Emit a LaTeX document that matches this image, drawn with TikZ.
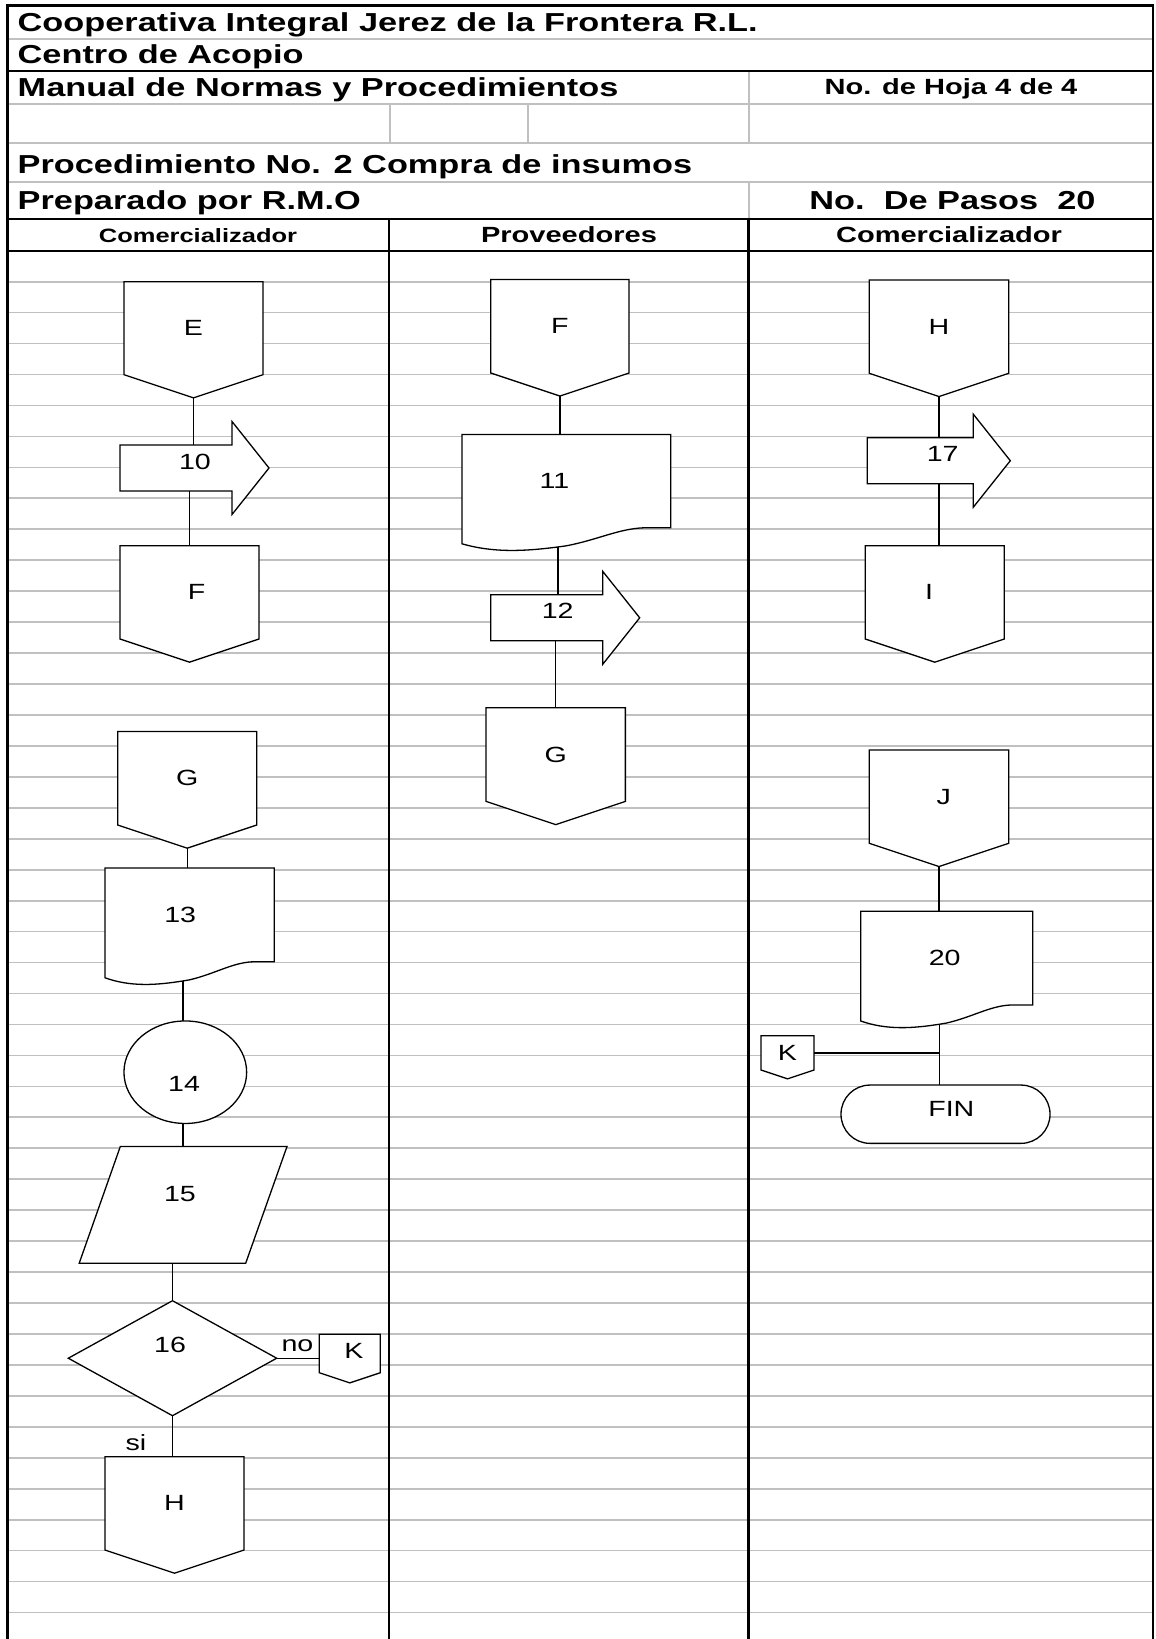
\documentclass[tikz,border=0pt]{standalone}
\usepackage{fontspec}
\setmainfont{Liberation Sans}
\newfontfamily\cabfam[FakeStretch=1.32]{Liberation Sans}
\newfontfamily\cuerpo[FakeStretch=1.3]{Liberation Sans}
\usepackage{xcolor}
\usepackage{tikz}
\usetikzlibrary{shapes.geometric}
\definecolor{rejillagris}{HTML}{C0C0C0}
% one pixel of the sheet
\newcommand{\upx}{0.5pt}
% move a label inside its shape: dx, dy, text
\newcommand{\mv}[3]{\raisebox{#2}[\height][\depth]{\makebox[0pt]{\hspace*{#1}\hspace*{#1}#3}}}
% off-page connector: name, centre x, top, width, height, text
\newcommand{\salto}[6]{%
  \filldraw[forma] ({#2-#4/2},#3) -- ({#2+#4/2},#3) -- ({#2+#4/2},{#3+#5})
    -- (#2,{#3+#5+#4/6}) -- ({#2-#4/2},{#3+#5}) -- cycle;
  \node[etiq, minimum width=#4*\upx, minimum height=#5*\upx] (#1) at (#2,{#3+#5/2}) {#6};
  \coordinate (#1-p) at (#2,{#3+#5+#4/6});}
% document: name, left, top, width, height, text
\newcommand{\documento}[6]{%
  \filldraw[forma] (#2,#3) -- ({#2+#4},#3) -- ({#2+#4},{#3+#5}) -- ({#2+0.87*#4},{#3+#5})
    .. controls ({#2+0.75*#4},{#3+#5+1}) and ({#2+0.65*#4},{#3+#5+12}) .. ({#2+0.5*#4},{#3+#5+18})
    .. controls ({#2+0.3*#4},{#3+#5+24}) and ({#2+0.15*#4},{#3+#5+25}) .. (#2,{#3+#5+16}) -- cycle;
  \node[etiq, minimum width=#4*\upx, minimum height=#5*\upx] (#1) at ({#2+#4/2},{#3+#5/2}) {#6};
  \coordinate (#1-p) at ({#2+0.46*#4},{#3+#5+19.3});}
% block arrow: name, left, top, body width, text
\newcommand{\flecha}[5]{%
  \filldraw[forma] (#2,#3) -- ({#2+#4},#3) -- ({#2+#4},{#3-23.5}) -- ({#2+#4+37},{#3+23})
    -- ({#2+#4},{#3+69.5}) -- ({#2+#4},{#3+46}) -- (#2,{#3+46}) -- cycle;
  \node[etiq, minimum width=#4*\upx, minimum height=46*\upx] (#1) at ({#2+#4/2},{#3+23}) {#5};}

\begin{document}
\begin{tikzpicture}[x=0.5pt, y=-0.5pt,
  forma/.style={draw=black, fill=white, line width=0.65pt},
  etiq/.style={inner sep=0pt, outer sep=0pt, font=\cuerpo\fontsize{11}{13}\selectfont},
  nodoforma/.style={etiq, forma},
  linea/.style={draw=black, line width=0.65pt},
  rejilla/.style={draw=rejillagris, line width=0.85pt},
  marco/.style={draw=black, line width=1.3pt},
  raya/.style={draw=black, line width=1.1pt},
  cab/.style={inner sep=0pt, font=\cabfam\bfseries\fontsize{13}{15}\selectfont},
  cabchica/.style={inner sep=0pt, font=\cabfam\bfseries\fontsize{11}{13}\selectfont},
  cabcarril/.style={inner sep=0pt, font=\cabfam\bfseries\fontsize{9.65}{11}\selectfont}]
\useasboundingbox (0,0) rectangle (1156,1639);
% ruled sheet
\foreach \k in {1,...,44}
  \draw[rejilla] (7.3,{250.7+30.95*\k}) -- (1153,{250.7+30.95*\k});
% header grid
\foreach \yy in {39,104,143,182}
  \draw[rejilla] (7.3,\yy) -- (1153,\yy);
\draw[rejilla] (749,70.7) -- (749,143);
\draw[rejilla] (749,182) -- (749,219);
\draw[rejilla] (390,104) -- (390,143);
\draw[rejilla] (528,104) -- (528,143);
\foreach \yy in {70.7,219,250.7}
  \draw[raya] (7.3,\yy) -- (1153,\yy);
% lanes
\draw[raya] (389,219) -- (389,1639);
\draw[raya] (748.5,219) -- (748.5,1639);
\draw[marco] (7.3,1639) -- (7.3,5.5) -- (1153,5.5) -- (1153,1639);
% header texts
\node[cab, anchor=base west] (tit1) at (17.3,31) {Cooperativa Integral Jerez de la Frontera R.L.};
\node[cab, anchor=base west] (tit2) at (17.3,63) {Centro de Acopio};
\node[cab, anchor=base west] (tit3) at (17.3,96) {Manual de Normas y Procedimientos};
\node[cabchica, anchor=base] (hoja) at (951,94) {No. de Hoja 4 de 4};
\node[cab, anchor=base west] (proc) at (17.3,173) {Procedimiento No. 2 Compra de insumos};
\node[cab, anchor=base west] (prep) at (17.3,209) {Preparado por R.M.O};
\node[cab, anchor=base] (pasos) at (952.5,209) {No.\ \ De Pasos\ \ 20};
\node[cabcarril, anchor=base] (carril1) at (198,242) {Comercializador};
\node[cabchica, anchor=base] (carril2) at (569,242) {Proveedores};
\node[cabchica, anchor=base] (carril3) at (949,242) {Comercializador};
% Comercializador (left lane)
\salto{E}{193.5}{281.7}{139}{93}{E}
\flecha{a10}{120}{445}{112}{\mv{9.5pt}{3pt}{10}}
\salto{F1}{189.5}{545.7}{139}{93.3}{\mv{3.5pt}{0pt}{F}}
\salto{G1}{187.2}{731.4}{139}{93.6}{G}
\documento{d13}{105}{868}{169.3}{93.8}{\mv{-4.7pt}{0pt}{13}}
\node[nodoforma, ellipse, minimum width=122.7*\upx, minimum height=102.5*\upx] (c14) at (185.3,1072.2) {\mv{-0.6pt}{-6pt}{14}};
\filldraw[forma] (120.3,1146.5) -- (287,1146.5) -- (245.7,1263.2) -- (79.2,1263.2) -- cycle;
\node[etiq, minimum width=166.7*\upx, minimum height=116.7*\upx] (p15) at (183.2,1204.85) {\mv{-1.6pt}{5.6pt}{15}};
\node[nodoforma, diamond, minimum width=208.4*\upx, minimum height=115*\upx] (r16) at (172.5,1358.2) {\mv{-1.2pt}{6.5pt}{16}};
\salto{K2}{349.8}{1334.3}{61}{38.4}{\mv{2pt}{1.5pt}{K}}
\salto{H2}{174.5}{1456.7}{139}{93.3}{H}
\node[etiq] (no) at (297.5,1346) {no};
\node[etiq] (si) at (136,1442.5) {si};
% Proveedores
\salto{F2}{559.9}{279.4}{138.3}{93.6}{F}
\documento{d11}{462}{434.4}{208.7}{93.4}{\mv{-6pt}{0pt}{11}}
\flecha{a12}{490.7}{594.8}{112}{\mv{5.5pt}{3.5pt}{12}}
\salto{G2}{555.7}{707.7}{139.3}{93.7}{G}
% Comercializador (right lane)
\salto{H1}{939}{280}{139.4}{93.3}{H}
\flecha{a17}{867.3}{437.7}{106}{\mv{11.2pt}{3.4pt}{17}}
\salto{I1}{934.8}{545.7}{139}{93.3}{\mv{-2.8pt}{0pt}{I}}
\salto{J1}{939}{750}{139.4}{93.3}{\mv{2.4pt}{0pt}{J}}
\documento{d20}{860.7}{911.3}{172}{93.7}{\mv{-1pt}{0pt}{20}}
\salto{K1}{787.5}{1035.7}{53}{34.3}{K}
\node[nodoforma, rounded corners=14.5pt, minimum width=209*\upx, minimum height=58.3*\upx] (fin) at (945.5,1114.2) {\mv{2.9pt}{2.5pt}{FIN}};
% connectors
\draw[linea] (E-p) -- (E-p |- a10.north);
\draw[linea] (F1.north |- a10.south) -- (F1.north);
\draw[linea] (G1-p) -- (G1-p |- d13.north);
\draw[linea] (d13-p) -- (d13-p |- c14.north);
\draw[linea] (d13-p |- c14.south) -- (d13-p |- p15.north);
\draw[linea] (r16.north |- p15.south) -- (r16.north);
\draw[linea] (r16.east) -- (r16.east -| K2.west);
\draw[linea] (r16.south) -- (r16.south |- H2.north);
\draw[linea] (F2-p) -- (F2-p |- d11.north);
\draw[linea] (d11-p) -- (d11-p |- a12.north);
\draw[linea] (G2.north |- a12.south) -- (G2.north);
\draw[linea] (H1-p) -- (H1-p |- a17.north);
\draw[linea] (H1-p |- a17.south) -- (H1-p |- I1.north);
\draw[linea] (J1-p) -- (J1-p |- d20.north);
\draw[linea] (d20-p) -- (d20-p |- fin.north);
\draw[linea] (K1.east) -- (K1.east -| d20-p);
\end{tikzpicture}
\end{document}
